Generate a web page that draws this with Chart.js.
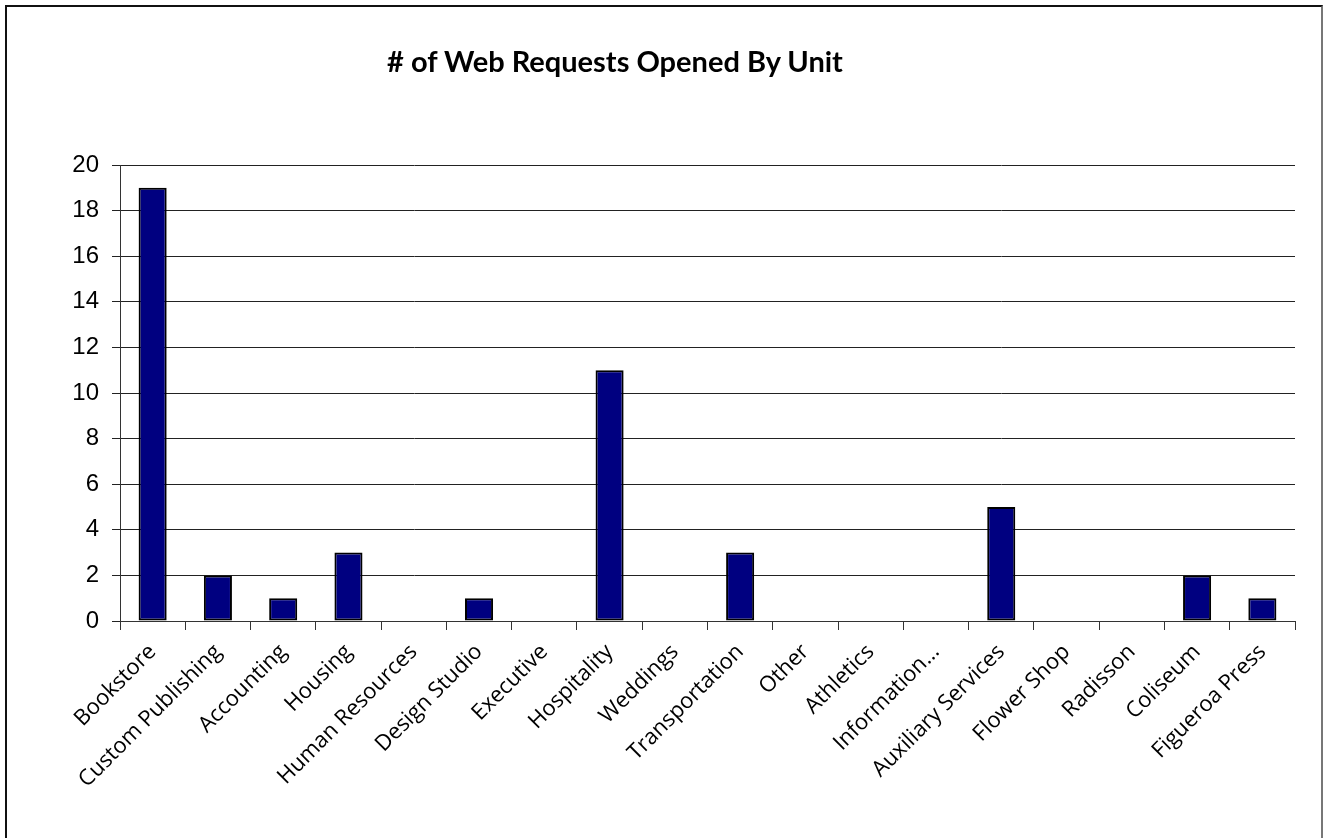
<!DOCTYPE html>
<html>
<head>
<meta charset="utf-8">
<script src="https://cdn.jsdelivr.net/npm/chart.js@4/dist/chart.umd.min.js"></script>
<style>
  html, body { margin: 0; padding: 0; background: #fff; overflow: hidden; }
  #wrap { position: absolute; left: 0; top: 0; width: 1323px; height: 838px; }
  #frame { position: absolute; left: 5px; top: 5px; width: 1314px; height: 850px;
           border-top: 2px solid #111; border-left: 2px solid #111; border-right: 2px solid #777; }
  #title { position: absolute; left: 0; width: 1230px; top: 43px; text-align: center;
           font-family: Lato, sans-serif; font-weight: bold; font-size: 29px; line-height: 36px; color: #000; }
  canvas { position: absolute; left: 0; top: 0; }
</style>
</head>
<body>
<div id="wrap">
  <div id="frame"></div>
  <canvas id="c" width="1323" height="838"></canvas>
  <div id="title"></div>
</div>
<script>
const chartTitle = "# of Web Requests Opened By Unit";
const categories = ["Bookstore", "Custom Publishing", "Accounting", "Housing", "Human Resources",
  "Design Studio", "Executive", "Hospitality", "Weddings", "Transportation", "Other", "Athletics",
  "Information...", "Auxiliary Services", "Flower Shop", "Radisson", "Coliseum", "Figueroa Press"];
const requests = [19, 2, 1, 3, 0, 1, 0, 11, 0, 3, 0, 0, 0, 5, 0, 0, 2, 1];
const yMin = 0, yMax = 20, yStep = 2;

document.getElementById('title').textContent = chartTitle;

new Chart(document.getElementById('c'), {
  type: 'bar',
  data: {
    labels: categories,
    datasets: [{
      data: requests,
      backgroundColor: '#000080',
      borderColor: '#000000',
      borderWidth: 2,
      borderSkipped: false,
      barPercentage: 0.43,
      categoryPercentage: 1.0
    }]
  },
  options: {
    responsive: false,
    animation: false,
    devicePixelRatio: 1,
    layout: { padding: { left: 0, right: 28, top: 165, bottom: 0 } },
    plugins: {
      legend: { display: false },
      tooltip: { enabled: false },
      title: { display: false }
    },
    scales: {
      x: {
        offset: true,
        grid: { display: true, drawOnChartArea: false, drawTicks: true, tickLength: 9, color: '#333', offset: true },
        border: { display: true, color: '#333', width: 1 },
        ticks: {
          color: '#000',
          font: { family: 'Open Sans', size: 22 },
          maxRotation: 45, minRotation: 45,
          autoSkip: false,
          padding: 9
        },
        afterFit(scale) { scale.height = 217; }
      },
      y: {
        min: yMin, max: yMax,
        grid: { color: '#222', lineWidth: 1, tickLength: 8, drawTicks: true },
        border: { display: true, color: '#333', width: 1 },
        ticks: {
          stepSize: yStep,
          color: '#000',
          font: { family: 'Liberation Sans', size: 24 },
          padding: 13
        },
        afterFit(scale) { scale.width = 120; }
      }
    }
  }
});
</script>
</body>
</html>
